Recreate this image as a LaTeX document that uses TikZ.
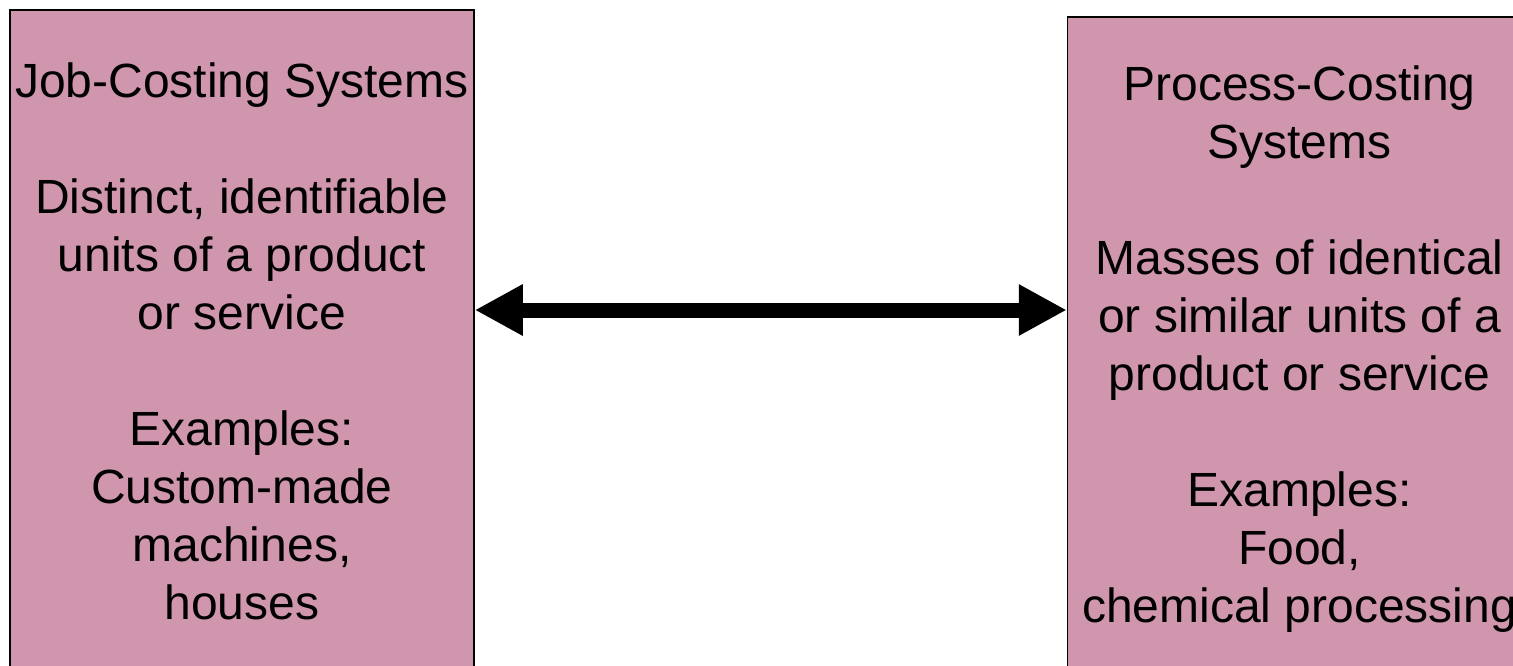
\documentclass[tikz,border=0pt]{standalone}
\usepackage{fontspec}
\setmainfont{Liberation Sans}
\usetikzlibrary{positioning,arrows.meta}
\definecolor{boxpink}{RGB}{207,150,174}

\begin{document}
\begin{tikzpicture}[
  costbox/.style={draw=black, line width=0.75pt, fill=boxpink, align=center,
    inner sep=2pt, minimum width=232pt,
    font=\fontsize{24pt}{29pt}\selectfont},
  bothway/.style={{Triangle[length=24pt,width=24pt]}-{Triangle[length=24pt,width=24pt]},
    line width=7.5pt}
]
\useasboundingbox (0,0) rectangle (756.5pt,-332.5pt);
\clip (0,0) rectangle (756.5pt,-332.5pt);

\node[costbox, minimum height=331pt] (job) at (121pt,-170.5pt)
  {Job-Costing Systems\\[29pt]
   Distinct, identifiable\\ units of a product\\ or service\\[29pt]
   Examples:\\ Custom-made\\ machines,\\ houses};
\node[costbox, minimum height=332pt, right=296pt of job, yshift=-4pt] (proc)
  {Process-Costing\\ Systems\\[29pt]
   Masses of identical\\ or similar units of a\\ product or service\\[29pt]
   Examples:\\ Food,\\ chemical processing};

\draw[bothway] ([yshift=15.5pt]job.east) -- ([yshift=15.5pt]job.east -| proc.west);

\end{tikzpicture}
\end{document}
